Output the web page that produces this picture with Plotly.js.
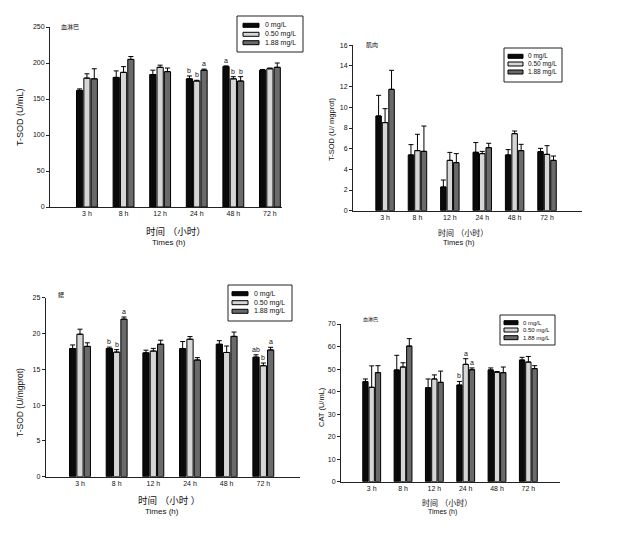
<!DOCTYPE html>
<html>
<head>
<meta charset="utf-8">
<script src="https://cdn.plot.ly/plotly-3.0.1.min.js"></script>
<style>html,body{margin:0;padding:0;background:#fff;}#chart{width:640px;height:538px;}</style>
</head>
<body>
<div id="chart"></div>
<script>
const times = ['3 h','8 h','12 h','24 h','48 h','72 h'];
const doses = ['0 mg/L','0.50 mg/L','1.88 mg/L'];

// Panel 1: hemolymph T-SOD (U/mL)
const hemoSOD_0   = [162, 180, 184, 178, 195, 190];
const hemoSOD_050 = [179, 187, 194, 175, 178, 192];
const hemoSOD_188 = [178, 205, 188, 190, 175, 194];
const hemoSOD_err0   = [2, 9, 6, 4, 1, 1];
const hemoSOD_err050 = [6, 8, 3, 1, 3, 1];
const hemoSOD_err188 = [14, 4, 5, 1.5, 6, 6];
const hemoSOD_sig0   = ['', '', '', 'b', 'a', ''];
const hemoSOD_sig050 = ['', '', '', 'b', 'b', ''];
const hemoSOD_sig188 = ['', '', '', 'a', 'b', ''];

// Panel 2: muscle T-SOD (U/mgprot)
const muscleSOD_0   = [9.16, 5.39, 2.29, 5.65, 5.39, 5.71];
const muscleSOD_050 = [8.52, 5.81, 4.87, 5.52, 7.45, 5.45];
const muscleSOD_188 = [11.74, 5.74, 4.65, 6.10, 5.81, 4.87];
const muscleSOD_err0   = [2.0, 1.0, 0.68, 0.94, 0.52, 0.32];
const muscleSOD_err050 = [1.35, 1.58, 0.77, 0.22, 0.26, 0.84];
const muscleSOD_err188 = [1.84, 2.45, 0.87, 0.42, 0.61, 0.42];

// Panel 3: gill T-SOD (U/mgprot)
const gillSOD_0   = [17.9, 17.9, 17.3, 17.9, 18.5, 16.7];
const gillSOD_050 = [19.9, 17.4, 17.55, 19.2, 17.35, 15.5];
const gillSOD_188 = [18.2, 22.0, 18.5, 16.3, 19.6, 17.7];
const gillSOD_err0   = [0.5, 0.2, 0.37, 0.98, 0.5, 0.33];
const gillSOD_err050 = [0.7, 0.35, 0.37, 0.37, 0.9, 0.38];
const gillSOD_err188 = [0.5, 0.3, 0.56, 0.33, 0.6, 0.37];
const gillSOD_sig0   = ['', 'b', '', '', '', 'ab'];
const gillSOD_sig050 = ['', 'b', '', '', '', 'b'];
const gillSOD_sig188 = ['', 'a', '', '', '', 'a'];

// Panel 4: hemolymph CAT (U/mL)
const hemoCAT_0   = [44.4, 49.6, 41.7, 42.9, 49.6, 54.0];
const hemoCAT_050 = [41.9, 50.9, 45.6, 52.1, 48.6, 53.1];
const hemoCAT_188 = [48.4, 60.2, 44.1, 49.7, 48.4, 50.2];
const hemoCAT_err0   = [1.2, 6.5, 3.9, 1.6, 0.9, 1.2];
const hemoCAT_err050 = [9.5, 1.9, 1.8, 2.5, 0.3, 2.5];
const hemoCAT_err188 = [3.1, 3.3, 5.0, 0.8, 2.5, 1.3];
const hemoCAT_sig0   = ['', '', '', 'b', '', ''];
const hemoCAT_sig050 = ['', '', '', 'a', '', ''];
const hemoCAT_sig188 = ['', '', '', 'a', '', ''];

const fills = ['#0a0a0a', '#d6d6d6', '#6a6a6a'];
const FONT = 'Liberation Sans, Arial, Noto Sans CJK SC, sans-serif';
const BARGAP = 0.4;

const panels = [
  {ax: '', vals: [hemoSOD_0, hemoSOD_050, hemoSOD_188], errs: [hemoSOD_err0, hemoSOD_err050, hemoSOD_err188], sigs: [hemoSOD_sig0, hemoSOD_sig050, hemoSOD_sig188],
   legBox: [237, 16, 303, 52], legSw: [243, 259], legRows: [25.3, 34.3, 42.7], legTx: 263, legFont: 7},
  {ax: '2', vals: [muscleSOD_0, muscleSOD_050, muscleSOD_188], errs: [muscleSOD_err0, muscleSOD_err050, muscleSOD_err188], sigs: null,
   legBox: [504, 48, 562, 82], legSw: [508, 523], legRows: [56.3, 64, 72], legTx: 526, legFont: 6.5},
  {ax: '3', vals: [gillSOD_0, gillSOD_050, gillSOD_188], errs: [gillSOD_err0, gillSOD_err050, gillSOD_err188], sigs: [gillSOD_sig0, gillSOD_sig050, gillSOD_sig188],
   legBox: [228, 285, 292, 321], legSw: [232, 248], legRows: [293.7, 302.7, 311.3], legTx: 252, legFont: 7},
  {ax: '4', vals: [hemoCAT_0, hemoCAT_050, hemoCAT_188], errs: [hemoCAT_err0, hemoCAT_err050, hemoCAT_err188], sigs: [hemoCAT_sig0, hemoCAT_sig050, hemoCAT_sig188],
   legBox: [500, 315, 555, 345], legSw: [504, 518], legRows: [322.7, 330, 337.7], legTx: 521, legFont: 6}
];

const traces = [];
const annotations = [];
const shapes = [];
const px = x => x / 640, py = y => 1 - y / 538;

panels.forEach(p => {
  p.vals.forEach((v, k) => {
    traces.push({
      type: 'bar', x: times, y: v, name: doses[k],
      xaxis: 'x' + p.ax, yaxis: 'y' + p.ax,
      offsetgroup: String(k), showlegend: false,
      marker: {color: fills[k], line: {color: '#000', width: 1}},
      error_y: {type: 'data', array: p.errs[k], arrayminus: p.errs[k].map(() => 0), symmetric: false, color: '#000', thickness: 1, width: 2.5},
      hoverinfo: 'none'
    });
    if (p.sigs) {
      const slot = (1 - BARGAP) / 3;
      p.sigs[k].forEach((s, i) => {
        if (!s) return;
        annotations.push({
          xref: 'x' + p.ax, yref: 'y' + p.ax,
          x: i + (k - 1) * slot, y: v[i] + p.errs[k][i],
          text: s, showarrow: false, yanchor: 'bottom', yshift: 0,
          font: {family: FONT, size: 7, color: '#111'}
        });
      });
    }
  });
  // legend box (drawn with shapes + text)
  const b = p.legBox;
  shapes.push({type: 'rect', xref: 'paper', yref: 'paper', x0: px(b[0]), x1: px(b[2]), y0: py(b[3]), y1: py(b[1]),
    line: {color: '#222', width: 1}, fillcolor: '#fff', layer: 'above'});
  doses.forEach((d, k) => {
    const yc = p.legRows[k];
    shapes.push({type: 'rect', xref: 'paper', yref: 'paper', x0: px(p.legSw[0]), x1: px(p.legSw[1]), y0: py(yc + 2), y1: py(yc - 2),
      line: {color: '#000', width: 1}, fillcolor: fills[k], layer: 'above'});
    annotations.push({xref: 'paper', yref: 'paper', x: px(p.legTx), y: py(yc), text: d, showarrow: false,
      xanchor: 'left', yanchor: 'middle', font: {family: FONT, size: p.legFont, color: '#111'}});
  });
});

function paperText(text, x, y, size, xanchor, rot) {
  annotations.push({xref: 'paper', yref: 'paper', x: px(x), y: py(y), text: text,
    showarrow: false, xanchor: xanchor || 'center', yanchor: 'middle', textangle: rot || 0,
    font: {family: FONT, size: size, color: '#111'}});
}
// panel labels
paperText('血淋巴', 59, 27, 6, 'left');
paperText('肌肉', 364, 45, 6, 'left');
paperText('鳃', 56, 294, 6, 'left');
paperText('血淋巴', 361, 319, 5, 'left');
// x titles
paperText('时间 （小时）', 176, 231, 9.5);
paperText('Times (h)', 150, 242, 8, 'left');
paperText('时间 （小时）', 463, 233, 8);
paperText('Times (h)', 441, 243, 7.5, 'left');
paperText('时间 （小时 ）', 169, 501, 9.5);
paperText('Times (h)', 143, 511, 8, 'left');
paperText('时间 （小时）', 447, 503, 8);
paperText('Times (h)', 426, 512, 7, 'left');
// y titles
paperText('T-SOD (U/mL)', 20, 117, 9, 'center', -90);
paperText('T-SOD (U/ mgprot)', 331, 130, 7.5, 'center', -90);
paperText('T-SOD (U/mgprot)', 20, 403, 8.5, 'center', -90);
paperText('CAT (U/mL)', 321, 407, 7.5, 'center', -90);

function xax(domain, range, anchor) {
  return {domain: domain, range: range, anchor: anchor, type: 'category', showline: true, linecolor: '#222', linewidth: 1,
    ticks: '', showgrid: false, zeroline: false, tickfont: {family: FONT, size: 7, color: '#111'}, fixedrange: true};
}
function yax(domain, range, dtick, anchor) {
  return {domain: domain, range: range, dtick: dtick, anchor: anchor, showline: true, linecolor: '#222', linewidth: 1,
    ticks: 'outside', ticklen: 3, tickcolor: '#222', showgrid: false, zeroline: false,
    tickfont: {family: FONT, size: 7, color: '#111'}, fixedrange: true};
}

const layout = {
  width: 640, height: 538, margin: {l: 0, r: 0, t: 0, b: 0},
  paper_bgcolor: '#fff', plot_bgcolor: '#fff',
  barmode: 'group', bargap: BARGAP, bargroupgap: 0.15,
  showlegend: false,
  xaxis: xax([50/640, 282/640], [-1.01, 5.33], 'y'),
  yaxis: yax([1-207/538, 1-27/538], [0, 250], 50, 'x'),
  xaxis2: xax([353/640, 582/640], [-0.99, 6.08], 'y2'),
  yaxis2: yax([1-210.7/538, 1-45.3/538], [0, 16], 2, 'x2'),
  xaxis3: xax([45.7/640, 300/640], [-0.935, 6.0], 'y3'),
  yaxis3: yax([1-476.7/538, 1-297.7/538], [0, 25], 5, 'x3'),
  xaxis4: xax([341/640, 560/640], [-0.98, 6.01], 'y4'),
  yaxis4: yax([1-481.7/538, 1-324/538], [0, 70], 10, 'x4'),
  shapes: shapes,
  annotations: annotations
};

Plotly.newPlot('chart', traces, layout, {staticPlot: true, displayModeBar: false});
</script>
</body>
</html>
